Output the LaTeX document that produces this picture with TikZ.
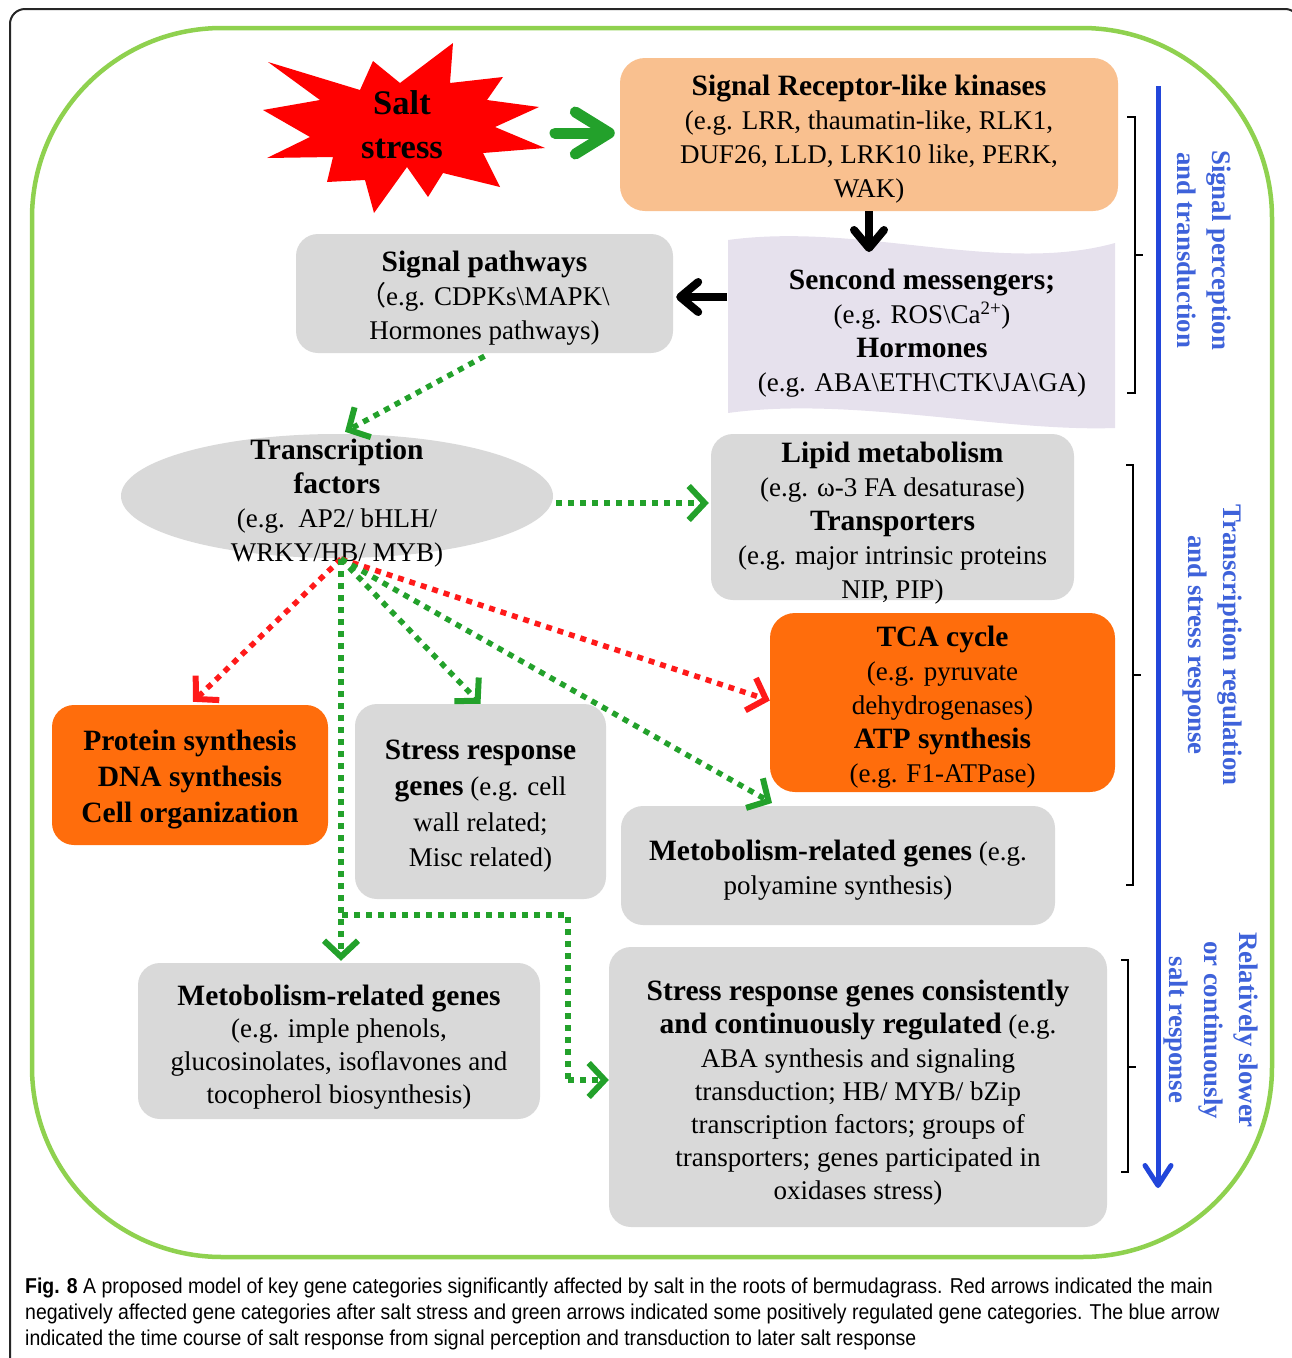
\documentclass[tikz,border=0pt]{standalone}
\usepackage{fontspec}
\setmainfont{Liberation Serif}
\newfontfamily\capfont[FakeStretch=0.905]{Liberation Sans}
\newfontfamily\cjk{Noto Sans CJK SC}
\usetikzlibrary{arrows.meta,shapes.geometric,calc}
\definecolor{peach}{HTML}{F9C08F}
\definecolor{boxgray}{HTML}{D9D9D9}
\definecolor{lav}{HTML}{E6E1ED}
\definecolor{orng}{HTML}{FF6D0C}
\definecolor{frgreen}{HTML}{8FD14F}
\definecolor{agreen}{HTML}{23A12B}
\definecolor{ared}{HTML}{FF1A1A}
\definecolor{ablue}{HTML}{2246DA}
\definecolor{lblue}{HTML}{3E62DA}
\newcommand\hdr[1]{{\fontsize{29.5}{34}\selectfont\bfseries #1}}
\tikzset{
  txt/.style={font=\fontsize{27}{34}\selectfont, align=center, inner sep=0pt},
  boxbase/.style={rounded corners=22pt, draw=none, inner sep=0pt},
  gbox/.style={boxbase, fill=boxgray},
  obox/.style={boxbase, fill=orng},
  sidelbl/.style={font=\fontsize{26.8}{35}\selectfont\bfseries, text=lblue, align=center, inner sep=0pt, rotate=-90},
  gdot/.style={draw=agreen, line width=5.5pt, dash pattern=on 6pt off 6pt, -{Straight Barb[length=16pt,width=34pt,line width=6pt]}},
  rdot/.style={draw=ared, line width=5.5pt, dash pattern=on 6pt off 6pt, -{Straight Barb[length=16pt,width=34pt,line width=6pt]}},
  fatarrow/.style={line width=11pt, line cap=round, -{Straight Barb[length=34pt,width=42pt,round]}},
  blkarrow/.style={draw=black, line width=8pt, -{Straight Barb[length=18pt,width=30pt,round]}},
  bracket/.style={draw=black, line width=2pt},
  captxt/.style={font=\capfont\fontsize{21.5}{26}\selectfont, anchor=west, inner sep=0pt}
}
\begin{document}
\begin{tikzpicture}[x=1pt,y=-1pt]
\useasboundingbox (0,0) rectangle (1292,1358);
\clip (0,0) rectangle (1292,1358);
% outer frame
\draw[line width=2pt, draw=black!85, rounded corners=15pt] (10,9) rectangle (1300,1372);
% green frame
\draw[line width=4.5pt, draw=frgreen, rounded corners=190pt] (32,28) rectangle (1272,1257);

% star
\fill[red] (268,62) -- (360,90) -- (373,61) -- (400,83) -- (453,43) -- (450,83) -- (503,77) -- (487,100) -- (539,107) -- (495,127) -- (545,148) -- (483,153) -- (500,187) -- (443,173) -- (428,197) -- (407,167) -- (374,213) -- (365,180) -- (327,182) -- (333,157) -- (267,158) -- (310,137) -- (263,110) -- (320,100) -- cycle;
\node[font=\fontsize{34.5}{44}\selectfont\bfseries, align=center, inner sep=0pt] (salt) at (402,125) {Salt\\stress};
\coordinate (starE) at (555,133);

% signal receptor box
\node[boxbase, fill=peach, rounded corners=25pt, minimum width=498pt, minimum height=153pt] (rlk) at (869,134.5) {};
\node[txt] (rlkT) at ($(rlk)+(0,5)$)
  {\hdr{Signal Receptor-like kinases}\\(e.g. LRR, thaumatin-like, RLK1,\\DUF26, LLD, LRK10 like, PERK,\\WAK)};
\draw[fatarrow, draw=agreen] (starE) -- ($(rlk.west)+(-5,-1.5)$);

% wave shape
\fill[lav] (728,240) .. controls (860,222) and (1000,275) .. (1115,243) -- (1115,428) .. controls (1000,432) and (850,396) .. (728,413) -- cycle;
\node[txt] (wave) at (922,333)
  {\hdr{Sencond messengers;}\\(e.g. ROS\textbackslash Ca\textsuperscript{2+})\\\hdr{Hormones}\\(e.g. ABA\textbackslash ETH\textbackslash CTK\textbackslash JA\textbackslash GA)};
\coordinate (waveN) at (869,252);
\coordinate (waveW) at (727,297);
\draw[blkarrow] (rlk.south) -- (waveN);

% signal pathways
\node[gbox, minimum width=377pt, minimum height=119pt] (sp) at (484.5,293.5) {};
\node[txt] (spT) at ($(sp)+(0,5)$)
  {\hdr{Signal pathways}\\{\cjk （}e.g. CDPKs\textbackslash MAPK\textbackslash\\Hormones pathways)};
\draw[blkarrow] (waveW) -- ($(sp.east)+(3,3.5)$);

% transcription factors
\node[ellipse, fill=boxgray, draw=none, minimum width=432pt, minimum height=124pt, inner sep=0pt] (tf) at (337,496) {};
\node[txt] (tftext) at (337,503) {\hdr{Transcription}\\\hdr{factors}\\(e.g.\ \ AP2/ bHLH/\\WRKY/HB/ MYB)};
\draw[gdot] ($(sp.south)+(0,3)$) -- ($(tf.north)+(8,-2)$);

% lipid
\node[gbox, minimum width=363pt, minimum height=166pt] (lip) at (892.5,517) {};
\node[txt] (lipT) at ($(lip)+(0,6)$)
  {\hdr{Lipid metabolism}\\(e.g. ω-3 FA desaturase)\\\hdr{Transporters}\\(e.g. major intrinsic proteins\\NIP, PIP)};
\draw[gdot] ($(tf.east)+(3,7)$) -- ($(lip.west)+(-2,-14)$);

% TCA
\node[obox, rounded corners=25pt, minimum width=345pt, minimum height=179pt] (tca) at (942.5,702.5) {};
\node[txt] (tcaT) at ($(tca)+(0,5)$)
  {\hdr{TCA cycle}\\(e.g. pyruvate\\dehydrogenases)\\\hdr{ATP synthesis}\\(e.g. F1-ATPase)};

% protein synthesis
\node[obox, minimum width=276pt, minimum height=140pt] (prot) at (190,775) {};
\node[txt, font=\fontsize{29.5}{36}\selectfont\bfseries] (protT) at ($(prot)+(0,5)$)
  {Protein synthesis\\DNA synthesis\\Cell organization};

% stress response genes
\node[gbox, minimum width=251pt, minimum height=195pt] (srg) at (480.5,801.5) {};
\node[txt, font=\fontsize{27}{35.7}\selectfont] (srgT) at ($(srg)+(0,5)$)
  {\hdr{Stress response}\\\hdr{genes} (e.g. cell\\wall related;\\Misc related)};

% metabolism related genes
\node[gbox, minimum width=434pt, minimum height=119pt] (met) at (838,865.5) {};
\node[txt] (metT2) at ($(met)+(0,5)$)
  {\hdr{Metobolism-related genes} (e.g.\\polyamine synthesis)};

% bottom-left metabolism
\node[gbox, minimum width=402pt, minimum height=156pt] (mb) at (339,1041) {};
\node[txt, font=\fontsize{27}{32.7}\selectfont] (mbT) at ($(mb)+(0,6)$)
  {\hdr{Metobolism-related genes}\\(e.g. imple phenols,\\glucosinolates, isoflavones and\\tocopherol biosynthesis)};

% bottom-right stress response
\node[gbox, minimum width=498pt, minimum height=280pt] (bot) at (858,1087) {};
\node[txt, font=\fontsize{27}{33.2}\selectfont] (botT) at ($(bot)+(0,6)$)
  {\hdr{Stress response genes consistently}\\\hdr{and continuously regulated} (e.g.\\ABA synthesis and signaling\\transduction; HB/ MYB/ bZip\\transcription factors; groups of\\transporters; genes participated in\\oxidases stress)};

% arrows from TF
\coordinate (tfb) at (341,559);
\coordinate (metT) at (772,803);
\coordinate (br1) at (342,915);
\coordinate (br2) at (568,915);
\coordinate (br3) at (568,1080);
\draw[rdot] (tfb) -- ($(prot.north)+(3,-3)$);
\draw[rdot] (tfb) -- ($(tca.west)+(0,-2)$);
\draw[gdot] (tfb) -- ($(srg.north)+(0,0)$);
\draw[gdot] (tfb) -- (metT);
\draw[gdot] (tfb) -- ($(tfb |- mb.north)+(0,-2)$);
\draw[gdot, -] (br1) -- (br2) -- (br3);
\draw[gdot] (br3) -- (br3 -| bot.west);

% blue time arrow
\coordinate (bt) at (1158,86);
\coordinate (bb) at (1158,1188);
\draw[draw=ablue, line width=5pt, -{Straight Barb[length=20pt,width=26pt,round]}] (bt) -- (bb);

% brackets
\draw[bracket] (1127,117) -- (1135,117) -- (1135,393) -- (1127,393);
\draw[bracket] (1135,255) -- (1143,255);
\draw[bracket] (1126,465) -- (1133,465) -- (1133,885) -- (1126,885);
\draw[bracket] (1133,675) -- (1141,675);
\draw[bracket] (1121,960) -- (1128,960) -- (1128,1172) -- (1121,1172);
\draw[bracket] (1128,1067) -- (1136,1067);

% side labels
\node[sidelbl] (l1) at (1204,250) {Signal perception\\and transduction};
\node[sidelbl] (l2) at (1212,645) {Transcription regulation\\and stress response};
\node[sidelbl] (l3) at (1211,1030) {Relatively slower\\or continuously\\salt response};

% caption
\node[captxt] (c1) at (25,1288) {\textbf{Fig. 8} A proposed model of key gene categories significantly affected by salt in the roots of bermudagrass. Red arrows indicated the main};
\node[captxt] (c2) at (25,1314) {negatively affected gene categories after salt stress and green arrows indicated some positively regulated gene categories. The blue arrow};
\node[captxt] (c3) at (25,1340) {indicated the time course of salt response from signal perception and transduction to later salt response};
\end{tikzpicture}
\end{document}
